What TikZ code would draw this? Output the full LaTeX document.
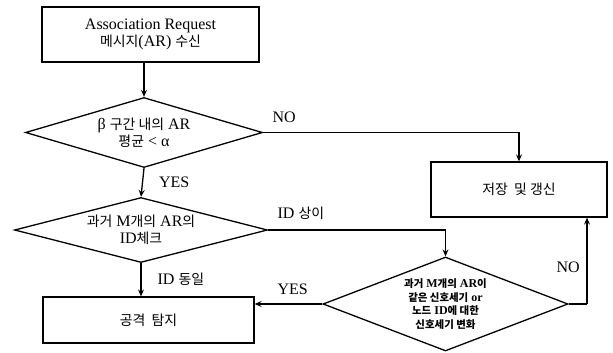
\documentclass[tikz,border=0pt]{standalone}
\usepackage{fontspec}
\setmainfont{Liberation Serif}
\newfontfamily\krfont[Scale=0.87]{Noto Sans CJK KR}
\newcommand{\kr}[1]{{\krfont #1}}
\usetikzlibrary{shapes.geometric,arrows.meta}

\begin{document}
\begin{tikzpicture}[x=1pt,y=-1pt,line width=1.3pt,
    >={Stealth[length=7pt,width=6pt,inset=2.5pt]},
    block/.style ={rectangle, draw, align=center, inner sep=0pt,
      font=\fontsize{16}{17}\selectfont},
    decision/.style ={diamond, draw, align=center, inner sep=0pt,
      font=\fontsize{16}{17}\selectfont},
    flowlabel/.style ={font=\fontsize{16}{17}\selectfont, inner sep=0pt}]
   \useasboundingbox (0,0) rectangle (613,353);
   \node[block, minimum width=217, minimum height=55] (recv) at (150.5,34.5)
     {Association Request\\\kr{메시지}(AR) \kr{수신}};
   \node[decision, aspect=3.39, inner sep=-2pt, minimum width=237, minimum height=70] (avg) at (144,132.5)
     {β \kr{구간 내의} AR\\\kr{평균} < α};
   \node[decision, aspect=3.9, inner sep=-4pt, minimum width=253, minimum height=65] (idchk) at (141,230)
     {\kr{과거} M\kr{개의} AR\kr{의}\\ID\kr{체크}};
   \node[block, minimum width=211, minimum height=46] (attack) at (148.5,320)
     {\kr{공격\ \ 탐지}};
   \node[block, minimum width=176, minimum height=55] (store) at (519,189.5)
     {\kr{저장\ \ 및 갱신}};
   \node[decision, aspect=2.6, inner sep=-2pt, minimum width=245, minimum height=94,
     font=\fontsize{12}{13.6}\selectfont\bfseries] (sig) at (445.5,304)
     {\kr{과거} M\kr{개의} AR\kr{이}\\\kr{같은 신호세기} or\\\kr{노드} ID\kr{에 대한}\\\kr{신호세기 변화}};
   \coordinate (back) at (587,304);
   \draw[->] (avg.north |- recv.south) to (avg.north);
   \draw[->] (avg.south) to node[flowlabel, right=16pt] {YES} (idchk.north);
   \draw[->] (idchk.south) to node[flowlabel, right=16pt] {ID \kr{동일}} (attack.north -| idchk.south);
   \draw[->] (avg.east) -| (store.north);
   \draw[->] (idchk.east) -| (sig.north);
   \draw[->] (sig.west) to (sig.west -| attack.east);
   \draw (sig.east) to (back);
   \draw[->] (back) to (back |- store.south);
   \node[flowlabel, anchor=west] (no1) at (272,117) {NO};
   \node[flowlabel, anchor=west] (diff) at (277,213) {ID \kr{상이}};
   \node[flowlabel, anchor=west] (yes2) at (277,289) {YES};
   \node[flowlabel, anchor=west] (no2) at (556,267) {NO};
 \end{tikzpicture}
\end{document}
